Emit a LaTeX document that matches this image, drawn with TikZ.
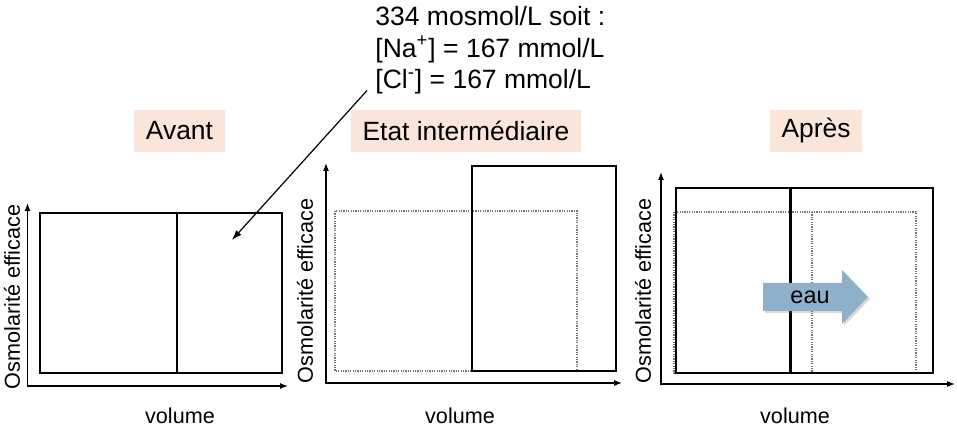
\documentclass[tikz,border=0pt]{standalone}
\usepackage{fontspec}
\setmainfont{Liberation Sans}
\usetikzlibrary{arrows.meta,shadows}
\definecolor{peach}{RGB}{249,229,218}
\definecolor{eaublue}{RGB}{141,176,203}

\begin{document}
\begin{tikzpicture}[x=0.5pt,y=-0.5pt,
    axis/.style={line width=0.6pt,{Latex[length=4pt,width=3pt]}-{Latex[length=4pt,width=3pt]}},
    comp/.style={draw,line width=1pt},
    old/.style={draw=black!55,line width=0.6pt,dash pattern=on 0.6pt off 0.6pt},
    titre/.style={fill=peach,minimum height=21pt,inner xsep=6pt,font=\fontsize{13.2}{15}\selectfont},
    ylab/.style={rotate=90,inner sep=0pt,font=\fontsize{10.8}{13}\selectfont},
    xlab/.style={anchor=base,inner sep=0pt,font=\fontsize{10.8}{13}\selectfont}]
    \useasboundingbox (0,0) rectangle (957,437);

    % annotation
    \node[align=left,anchor=north west,inner sep=0pt,font=\fontsize{13.25}{15.75}\selectfont]
        (conc) at (375,6) {334 mosmol/L soit :\\{[}Na\textsuperscript{+}] = 167 mmol/L\\{[}Cl\textsuperscript{-}] = 167 mmol/L};
    \coordinate (ptr) at (232,240);

    % titles
    \node[titre] (avant) at (179.5,131) {Avant};
    \node[titre] (inter) at (466,131) {Etat interm\'ediaire};
    \node[titre] (apres) at (816,131) {Apr\`es};

    % Avant
    \draw[axis] (27.5,203) |- (288,386);
    \draw[comp] (40,213) rectangle (282,373);
    \draw[comp] (177,213) -- (177,373);
    \node[ylab] (ylabA) at (12,297) {Osmolarit\'e efficace};
    \node[xlab] (xlabA) at (180,423) {volume};

    % Etat intermediaire
    \draw[axis] (326,163) |- (622,383);
    \draw[old] (335,211) rectangle (577,371);
    \draw[comp] (472,166) rectangle (616,371);
    \node[ylab] (ylabB) at (305,291) {Osmolarit\'e efficace};
    \node[xlab] (xlabB) at (460,423) {volume};

    % Apres
    \draw[axis] (661,172) |- (955,384);
    \draw[old] (674,212) rectangle (916,373);
    \draw[old] (812,212) -- (812,373);
    \draw[comp] (676,188) rectangle (933,373);
    \draw[line width=1.3pt] (676,188) rectangle (790,373);
    \draw[line width=1.5pt] (790,188) -- (790,373);
    \node[ylab] (ylabC) at (643,291) {Osmolarit\'e efficace};
    \node[xlab] (xlabC) at (795,423) {volume};

    \fill[eaublue,drop shadow={opacity=0.3,shadow xshift=1pt,shadow yshift=-1pt}]
        (763,283) -- (842,283) -- (842,270) -- (868,297) -- (842,324) -- (842,311) -- (763,311) -- cycle;
    \node[font=\fontsize{11.7}{14}\selectfont] (eau) at (810,297) {eau};

    \draw[line width=0.6pt,-{Latex[length=5pt,width=3.5pt]}]
        ([xshift=-4pt,yshift=2pt]conc.south west) -- (ptr);
\end{tikzpicture}
\end{document}
